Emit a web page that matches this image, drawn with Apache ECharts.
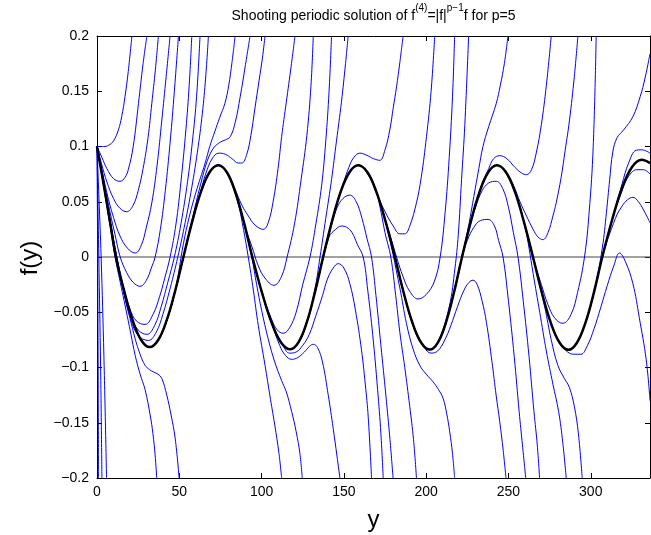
<!DOCTYPE html>
<html><head><meta charset="utf-8">
<script src="https://cdn.jsdelivr.net/npm/echarts@6/dist/echarts.min.js"></script>
<style>html,body{margin:0;padding:0;background:#fff}#c{width:651px;height:535px}</style>
</head><body><div id="c"></div>
<script>
const FONT = '"Liberation Sans", Arial, Helvetica, sans-serif';
const xRange = [0, 336];
const yTickLabels = ['\u22120.2','\u22120.15','\u22120.1','\u22120.05','0','0.05','0.1','0.15','0.2'];
const zeroLine = [[0, 0], [336, 0]];

// near-periodic solution (thick black)
const periodic = [
[0,0.1],[4,0.066],[8,0.031],[11.5,0],
[16.6,-0.0312],[21.75,-0.0576],[26.9,-0.0753],[32,-0.0815],
[37.1,-0.0753],[42.25,-0.0576],[47.4,-0.0312],[52.5,0],
[57.8,0.0318],[63.1,0.0587],[68.4,0.0767],[73.7,0.083],
[78.9,0.0767],[84,0.0587],[89.2,0.0318],[94.4,0],
[100.2,-0.032],[106,-0.059],[111.7,-0.0771],[117.5,-0.0835],
[122.5,-0.0771],[127.5,-0.059],[132.4,-0.032],[137.4,0],
[142.7,0.0318],[148,0.0587],[153.4,0.0767],[158.7,0.083],
[164.3,0.0767],[169.8,0.0587],[175.4,0.0318],[181,0],
[186.3,-0.0321],[191.6,-0.0593],[196.9,-0.0774],[202.2,-0.0838],
[207.1,-0.0774],[212,-0.0593],[216.9,-0.0321],[221.8,0],
[227.1,0.0318],[232.4,0.0587],[237.7,0.0767],[243,0.083],
[248.5,0.0767],[254,0.0587],[259.4,0.0318],[264.9,0],
[270.3,-0.0322],[275.7,-0.0594],[281.1,-0.0776],[286.5,-0.084],
[291.6,-0.0776],[296.8,-0.0594],[301.9,-0.0322],[307,0],
[313,0.0337],[319,0.0622],[325,0.0813],[331,0.088],[336,0.085]
];
function followPeriodic(xEnd, tail) { return periodic.filter(p => p[0] < xEnd).concat(tail); }

// early shots
const A1 = [[0,0.1],[4,0.1],[7,0.101],[10,0.105],[13,0.115],[15,0.127],[17,0.145],[19,0.168],[21.2,0.2]];
const A2 = [[0,0.1],[3,0.09],[6,0.08],[10,0.071],[14,0.0685],[17,0.072],[19,0.079],[22,0.1],[25.2,0.139],[28,0.175],[30.3,0.2]];
const A3 = [[0,0.1],[3,0.083],[6,0.068],[10,0.053],[14,0.044],[18.1,0.041],[22,0.047],[25,0.06],[28,0.08],[31,0.108],[33.3,0.139],[35.5,0.17],[37.3,0.2]];
const A4 = [[0,0.1],[3,0.079],[6,0.058],[10,0.036],[14,0.019],[18.5,0.008],[23.2,0.0036],[27,0.011],[30,0.027],[33.3,0.049],[36.5,0.083],[39.4,0.124],[42,0.163],[44.4,0.2]];
const A5 = [[0,0.1],[4,0.07],[8,0.04],[11,0.02],[14.1,0],[18,-0.014],[22,-0.023],[26.2,-0.0265],[30,-0.021],[33,-0.01],[35.3,0],[38.5,0.025],[41.5,0.06],[44.5,0.105],[47,0.15],[49.5,0.2]];
const A6 = [[0,0.1],[4,0.067],[8,0.033],[12,0],[16,-0.027],[20,-0.047],[24,-0.058],[29.2,-0.061],[34,-0.052],[38,-0.036],[41,-0.02],[44.4,0],[48,0.03],[51,0.068],[54,0.115],[56,0.155],[57.6,0.2]];
const A7 = [[0,0.1],[4,0.066],[8,0.032],[11.7,0],[16,-0.03],[20,-0.052],[25,-0.066],[30.3,-0.07],[35,-0.062],[39,-0.045],[43,-0.023],[47,0],[51,0.03],[55,0.068],[58,0.105],[60.5,0.145],[62.6,0.2]];
const A8 = [[0,0.1],[4,0.066],[8,0.032],[11.6,0],[16,-0.03],[20,-0.054],[25,-0.071],[31.3,-0.0755],[36,-0.068],[40,-0.052],[44.5,-0.028],[49.1,0],[53,0.027],[57,0.058],[61,0.095],[64,0.13],[66,0.162],[67.7,0.2]];
const D0a = [[0,0.1],[0.4,0],[0.7,-0.1],[0.9,-0.2]];
const D0b = [[0,0.1],[1.1,0],[2.2,-0.1],[3,-0.2]];
const D0c = [[0,0.1],[1.2,0.053],[2.5,0],[4.2,-0.09],[5.8,-0.2]];
const D0d = [[0,0.1],[4,0.064],[8,0.028],[11,0],[14,-0.022],[17.5,-0.047],[20.5,-0.069],[23.2,-0.089],[26.2,-0.106],[29.2,-0.12],[32.3,-0.143],[34,-0.16],[35.3,-0.179],[36.3,-0.2]];
const D0e = [[0,0.1],[4,0.066],[8,0.032],[12.1,0],[16,-0.03],[20,-0.055],[23.2,-0.074],[26.2,-0.088],[29.2,-0.098],[32,-0.102],[34.3,-0.104],[37,-0.106],[39.4,-0.11],[42.4,-0.125],[45,-0.143],[47.5,-0.164],[49.9,-0.2]];

// cycle 1
const B1 = followPeriodic(50, [[52.5,0.012],[56,0.036],[60,0.058],[65.7,0.085],[68.5,0.1],[71.7,0.114],[74.5,0.126],[77.7,0.139],[80,0.155],[82,0.176],[83.9,0.2]]);
const B2 = followPeriodic(56, [[57.8,0.034],[63,0.066],[67,0.087],[71,0.099],[75,0.104],[78,0.106],[81,0.109],[84,0.122],[87,0.145],[90,0.172],[93,0.2]]);
const B3 = followPeriodic(62, [[63.1,0.06],[66,0.075],[70,0.089],[74,0.094],[78,0.093],[82,0.089],[86,0.085],[88,0.085],[91,0.093],[93.5,0.11],[96,0.135],[98.5,0.16],[100.5,0.18],[102.1,0.2]]);
const B4 = followPeriodic(79, [[80.5,0.073],[84,0.061],[88,0.047],[92,0.037],[96,0.029],[101,0.025],[104,0.031],[107,0.05],[110,0.08],[112.2,0.109],[115,0.14],[118,0.173],[120.3,0.2]]);
const C1 = followPeriodic(80, [[82,0.066],[86,0.047],[89,0.025],[91.9,0],[95,-0.03],[98,-0.062],[102.1,-0.098],[105,-0.125],[108,-0.152],[110.5,-0.177],[112.2,-0.2]]);
const C2 = followPeriodic(92, [[94,0],[97,-0.025],[100,-0.048],[104,-0.074],[108,-0.095],[112.2,-0.112],[115,-0.122],[118.3,-0.14],[121,-0.158],[123.3,-0.178],[124.7,-0.2]]);
const C3a = followPeriodic(108, [[111,-0.08],[114.5,-0.089],[118.3,-0.0926],[122,-0.091],[126,-0.086],[129,-0.081],[131.4,-0.079],[134,-0.082],[137,-0.095],[140.5,-0.125],[143.5,-0.155],[145.8,-0.18],[147.6,-0.2]]);
const C3b = followPeriodic(110, [[113,-0.08],[117,-0.087],[121,-0.086],[125,-0.08],[129,-0.07],[133,-0.053],[137,-0.035],[140,-0.02],[143.5,-0.01],[146.6,-0.006],[150,-0.01],[153.6,-0.024],[157,-0.048],[160.7,-0.084],[163,-0.115],[164.8,-0.145],[166.8,-0.2]]);
const C4 = followPeriodic(88, [[90,0.027],[94,0.01],[98,-0.008],[102,-0.019],[107.5,-0.0256],[112,-0.018],[115.5,0],[120,0.03],[124,0.07],[127.5,0.11],[130,0.155],[131.4,0.2]]);
const C5 = followPeriodic(104, [[106,-0.056],[109.5,-0.066],[113.2,-0.069],[117,-0.064],[121,-0.05],[125,-0.025],[129.4,0],[133,0.03],[136.5,0.065],[139,0.105],[141,0.15],[142.5,0.2]]);
const C6 = followPeriodic(130, [[132.4,-0.029],[135.5,0],[139,0.035],[142.5,0.07],[145.5,0.105],[148.5,0.14],[151,0.175],[152.6,0.2]]);
const D1a = followPeriodic(137.4, [[141,0.018],[145,0.025],[148.5,0.028],[151.6,0.027],[155,0.022],[158,0.012],[161.7,0],[164.5,-0.03],[167.5,-0.07],[170.5,-0.12],[172.5,-0.16],[173.9,-0.2]]);
const D1b = followPeriodic(140, [[142.7,0.03],[146,0.045],[149.5,0.053],[153.6,0.056],[157.5,0.05],[161,0.035],[164,0.017],[166.8,0],[169.5,-0.035],[172.5,-0.08],[175.5,-0.125],[178,-0.165],[179.9,-0.2]]);
const B3b = followPeriodic(148, [[150,0.068],[153,0.081],[156,0.09],[159.7,0.094],[164,0.092],[168,0.089],[171.8,0.0875],[175,0.097],[177.9,0.115],[180,0.135],[182,0.154],[184,0.176],[186,0.2]]);
const B4b = followPeriodic(163, [[165,0.074],[170,0.057],[175,0.041],[180,0.028],[184,0.021],[187,0.021],[190,0.028],[194.1,0.049],[197,0.072],[200.2,0.109],[203,0.15],[205.2,0.2]]);

// cycle 2
const F2 = followPeriodic(170, [[172,0.045],[175,0.022],[178.5,0],[181.5,-0.035],[184,-0.068],[187,-0.1],[190,-0.135],[192.3,-0.165],[194.1,-0.2]]);
const S2 = followPeriodic(181, [[184,-0.028],[188,-0.06],[192,-0.083],[196.1,-0.098],[200,-0.106],[204.2,-0.113],[207.5,-0.12],[210.3,-0.128],[212.5,-0.142],[214.3,-0.158],[216,-0.178],[217.3,-0.2]]);
const P2 = followPeriodic(196, [[199,-0.082],[203,-0.087],[207,-0.085],[211,-0.076],[215,-0.062],[219,-0.045],[223,-0.03],[226,-0.023],[228.5,-0.021],[231,-0.025],[234,-0.04],[236.6,-0.059],[240,-0.095],[242.5,-0.125],[244.7,-0.149],[246.8,-0.175],[248.5,-0.2]]);
const U2 = followPeriodic(175, [[178,0.02],[182,0],[186,-0.018],[190,-0.031],[195.1,-0.038],[200,-0.034],[205,-0.022],[208.5,0],[211.5,0.04],[214,0.09],[216,0.145],[217.3,0.2]]);
const R2 = followPeriodic(212, [[214,-0.045],[217.5,-0.01],[219.5,0.02],[221.5,0.07],[223.5,0.12],[225.8,0.2]]);
const X2 = followPeriodic(224, [[226,0.03],[229,0.055],[232,0.08],[234.5,0.1],[238,0.118],[242.6,0.139],[245,0.155],[247.5,0.175],[249.7,0.2]]);
const D2a = followPeriodic(222, [[225,0.015],[229,0.027],[233,0.033],[237.6,0.034],[241.5,0.028],[244,0.015],[246.7,0],[250,-0.04],[253.5,-0.09],[256.5,-0.14],[258.5,-0.17],[260.5,-0.2]]);
const D2b = followPeriodic(228, [[230,0.045],[234,0.06],[238,0.067],[242.6,0.0685],[246.5,0.062],[250,0.045],[253,0.022],[255.8,0],[259,-0.04],[262.5,-0.09],[265.5,-0.14],[267.5,-0.17],[268.9,-0.2]]);
const Z2 = followPeriodic(235, [[238,0.08],[241,0.089],[244.7,0.0917],[249,0.089],[254,0.081],[258,0.076],[260.9,0.0745],[264,0.079],[267,0.095],[270,0.12],[273,0.155],[276,0.2]]);
const W2 = followPeriodic(250, [[253,0.065],[257,0.05],[261,0.037],[265,0.025],[268,0.018],[270.9,0.0157],[274,0.022],[277,0.037],[279,0.049],[282,0.072],[284.5,0.097],[287.1,0.124],[290,0.163],[292.2,0.2]]);

// cycle 3
const F3 = followPeriodic(258, [[260,0.028],[262.5,0.008],[265,-0.015],[269,-0.05],[273,-0.085],[277,-0.115],[280.5,-0.14],[283,-0.168],[285.1,-0.2]]);
const S3 = followPeriodic(270, [[272,-0.045],[276,-0.075],[280,-0.098],[284,-0.11],[287,-0.118],[290,-0.135],[292.5,-0.16],[294.8,-0.2]]);
const U3 = followPeriodic(268, [[270,-0.025],[274,-0.043],[278,-0.055],[283,-0.06],[288,-0.052],[292,-0.032],[296.2,0],[299,0.04],[301.5,0.1],[303.3,0.2]]);
const P3 = followPeriodic(284, [[286,-0.086],[290,-0.088],[294,-0.088],[298,-0.08],[302,-0.065],[306,-0.046],[310,-0.026],[314,-0.008],[317.5,0.0036],[321,-0.004],[325.6,-0.024],[329.5,-0.055],[333.7,-0.093],[336,-0.13]]);
const RE = followPeriodic(305, [[307,0.008],[309.5,0.04],[311.5,0.07],[313.4,0.095],[316,0.108],[320,0.115],[325.6,0.127],[330,0.145],[333,0.162],[336,0.184]]);
const E1 = followPeriodic(315, [[319,0.066],[323,0.085],[327.6,0.0966],[331,0.097],[336,0.094]]);
const E2 = followPeriodic(316, [[319,0.06],[323,0.073],[328,0.079],[332,0.079],[336,0.075]]);
const E3 = followPeriodic(312, [[315,0.035],[319,0.046],[322.5,0.052],[325.6,0.054],[329,0.05],[333,0.04],[336,0.031]]);

const blueCurves = [A1,A2,A3,A4,A5,A6,A7,A8,D0a,D0b,D0c,D0d,D0e,
  B1,B2,B3,B4,C1,C2,C3a,C3b,C4,C5,C6,D1a,D1b,B3b,B4b,
  F2,S2,P2,U2,R2,X2,D2a,D2b,Z2,W2,F3,S3,U3,P3,RE,E1,E2,E3];

const chart = echarts.init(document.getElementById('c'), null, {renderer: 'canvas'});
const series = [];
series.push({type:'line', data: zeroLine, showSymbol:false, lineStyle:{color:'#444', width:1}, silent:true, z:1, animation:false});
blueCurves.forEach(c => series.push({type:'line', data:c, showSymbol:false, smooth:0.4, lineStyle:{color:'#0000ff', width:1}, silent:true, z:2, animation:false}));
series.push({type:'line', data: periodic, showSymbol:false, smooth:0.4, lineStyle:{color:'#000', width:2.5}, silent:true, z:3, animation:false});

const axisCommon = {
  axisLine:{show:true, onZero:false, lineStyle:{color:'#000', width:1}},
  axisTick:{show:true, inside:true, length:5, lineStyle:{color:'#000'}},
  splitLine:{show:false}
};
chart.setOption({
  animation:false,
  backgroundColor:'#fff',
  grid:{left:97, right:1, top:36, bottom:57, containLabel:false},
  xAxis:[
    Object.assign({type:'value', min:xRange[0], max:xRange[1], interval:50, position:'bottom',
      axisLabel:{show:true, color:'#000', fontSize:14, fontFamily:FONT, margin:7, showMaxLabel:false,
        formatter: v => (v % 50 === 0 ? String(v) : '')}}, axisCommon),
    Object.assign({type:'value', min:xRange[0], max:xRange[1], interval:50, position:'top',
      axisLabel:{show:false}}, axisCommon)
  ],
  yAxis:[
    Object.assign({type:'value', min:-0.2, max:0.2, interval:0.05, position:'left',
      axisLabel:{show:true, color:'#000', fontSize:14, fontFamily:FONT, margin:8,
        formatter: v => yTickLabels[Math.round((v + 0.2) / 0.05)]}}, axisCommon),
    Object.assign({type:'value', min:-0.2, max:0.2, interval:0.05, position:'right',
      axisLabel:{show:false}}, axisCommon)
  ],
  series: series,
  graphic:[
    {type:'text', x:373.5, y:13, style:{
      text:'{a|Shooting periodic solution of f}{s|(4)}{a|=|f|}{s|p\u22121}{a|f for p=5}',
      align:'center', verticalAlign:'middle', fill:'#000',
      rich:{a:{fontSize:14, fontFamily:FONT, fill:'#000', lineHeight:20, verticalAlign:'bottom'},
            s:{fontSize:10, fontFamily:FONT, fill:'#000', lineHeight:20, verticalAlign:'top'}}}},
    {type:'text', x:373.5, y:520, style:{text:'y', font:'24px ' + FONT, fill:'#000', align:'center', verticalAlign:'middle'}},
    {type:'text', x:30, y:258, rotation:Math.PI/2, style:{text:'f(y)', font:'24px ' + FONT, fill:'#000', align:'center', verticalAlign:'middle'}}
  ]
});
</script></body></html>
